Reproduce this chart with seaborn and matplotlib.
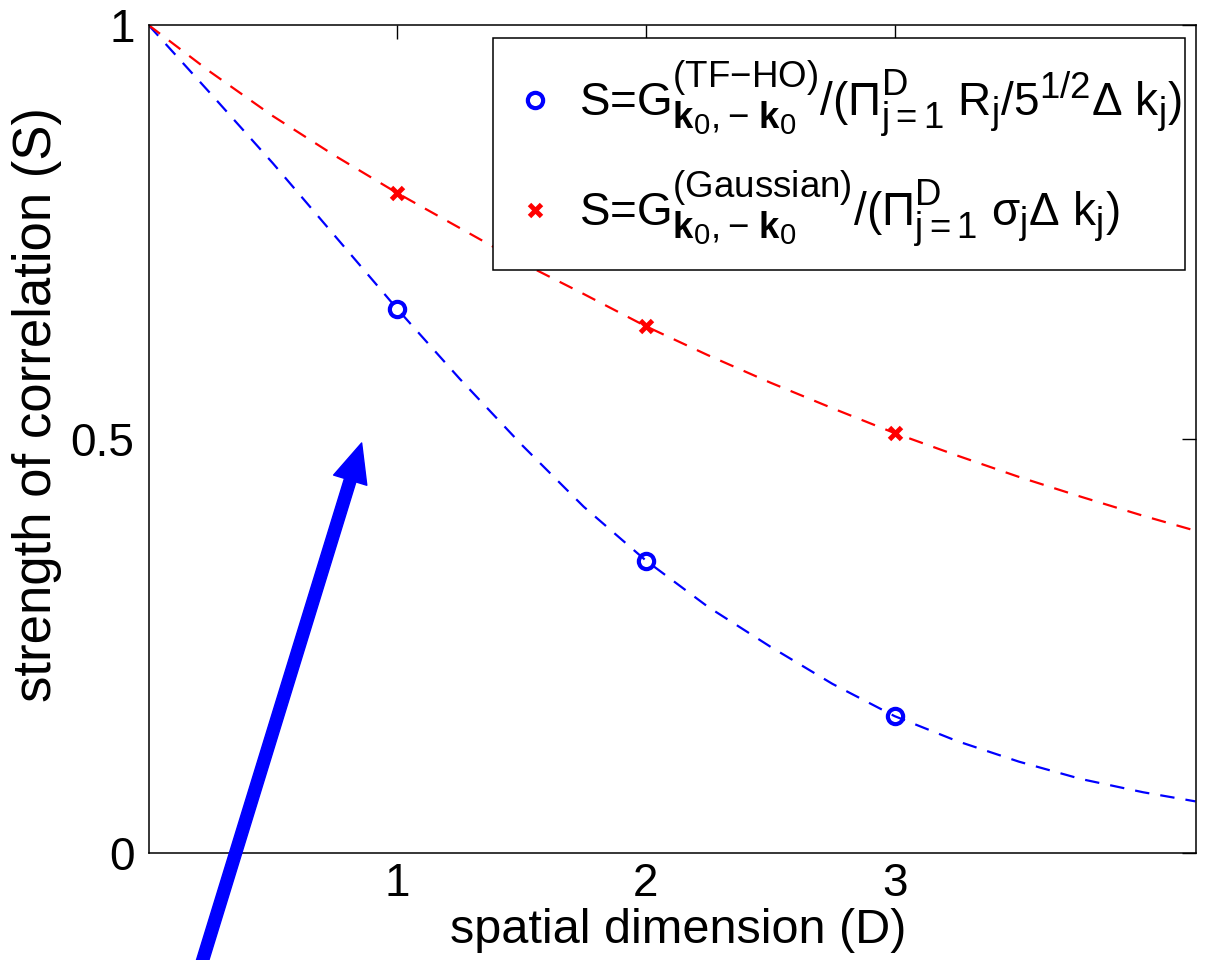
import matplotlib
matplotlib.use("Agg")
import matplotlib.pyplot as plt
from matplotlib.lines import Line2D
from matplotlib.patches import Rectangle
import seaborn as sns
import pandas as pd
try:
    import matplotlib._mathtext as _mt
    _mt.SHRINK_FACTOR = 0.8
except Exception:
    pass

# ---- data ----
dims = [1, 2, 3]
s_tfho = [0.657, 0.353, 0.165]
s_gauss = [0.797, 0.636, 0.507]

curve_x = [0, 0.25, 0.5, 0.75, 1, 1.25, 1.5, 1.75, 2, 2.25, 2.5, 2.75, 3,
           3.25, 3.5, 3.75, 4, 4.21]
curve_tfho = [1.0, 0.917, 0.833, 0.745, 0.657, 0.573, 0.493, 0.418, 0.353,
              0.297, 0.249, 0.204, 0.165, 0.135, 0.110, 0.089, 0.073, 0.062]
curve_gauss = [1.0, 0.943, 0.890, 0.842, 0.797, 0.755, 0.713, 0.675, 0.636,
               0.601, 0.568, 0.537, 0.507, 0.480, 0.454, 0.430, 0.407, 0.389]

x_ticks = [1, 2, 3]
y_ticks = [0, 0.5, 1]
y_tick_labels = ["0", "0.5", "1"]

label_tfho = (r"S=G$^{(\mathrm{TF{-}HO})}_{\mathbf{k}_0\mathrm{,{-}}\ \mathbf{k}_0}$"
              r"/($\Pi^D_{j{=}1}$ R$_j$/5$^{1/2}$$\Delta$ k$_j$)")
label_gauss = (r"S=G$^{(\mathrm{Gaussian})}_{\mathbf{k}_0\mathrm{,{-}}\ \mathbf{k}_0}$"
               r"/($\Pi^D_{j{=}1}$ $\sigma_j\Delta$ k$_j$)")

# ---- style ----
sns.set_style("white")
plt.rcParams["font.family"] = ["Liberation Sans", "DejaVu Sans"]
plt.rcParams["mathtext.fontset"] = "custom"
plt.rcParams["mathtext.rm"] = "Liberation Sans"
plt.rcParams["mathtext.it"] = "Liberation Sans"
plt.rcParams["mathtext.bf"] = "Liberation Sans:bold"
plt.rcParams["mathtext.sf"] = "Liberation Sans"
plt.rcParams["text.color"] = "black"
plt.rcParams["axes.labelcolor"] = "black"
plt.rcParams["xtick.color"] = "black"
plt.rcParams["ytick.color"] = "black"

FS = 33

fig = plt.figure(figsize=(12.05, 9.6), dpi=100)
ax = fig.add_axes([148.5 / 1205, (960 - 852.7) / 960, 1047 / 1205, 827.7 / 960])

df_curve = pd.DataFrame({"x": curve_x, "tfho": curve_tfho, "gauss": curve_gauss})
sns.lineplot(data=df_curve, x="x", y="tfho", ax=ax, color="#0000ff", lw=1.6,
             dashes=False, sort=False, estimator=None)
sns.lineplot(data=df_curve, x="x", y="gauss", ax=ax, color="#ff0000", lw=1.6,
             dashes=False, sort=False, estimator=None)
for ln in ax.lines:
    ln.set_dashes((6.5, 5))

ax.plot(dims, s_tfho, linestyle="none", marker="o", markersize=11,
        markerfacecolor="none", markeredgecolor="#0000ff", markeredgewidth=3)
ax.plot(dims, s_gauss, linestyle="none", marker="x", markersize=8.5,
        markeredgecolor="#ff0000", markeredgewidth=3.5)

ax.set_xlim(0, 4.21)
ax.set_ylim(0, 1)
ax.set_xticks(x_ticks)
ax.set_xticklabels([str(t) for t in x_ticks])
ax.set_yticks(y_ticks)
ax.set_yticklabels(y_tick_labels)
ax.tick_params(direction="in", length=10, width=1, top=True, right=True,
               labelsize=FS, colors="black")
ax.tick_params(axis="x", pad=7)
ax.tick_params(axis="y", pad=10)
for sp in ax.spines.values():
    sp.set_visible(True)
    sp.set_color("black")
    sp.set_linewidth(1.1)

ax.set_xlabel("spatial dimension (D)", fontsize=35, color="black")
ax.set_ylabel("strength of correlation (S)", fontsize=38, color="black")
ax.xaxis.set_label_coords(0.5057, -0.0668)
ax.yaxis.set_label_coords(-0.0826, 0.542)

# legend frame (white box with black edge)
frame = Rectangle((0.329, 0.704), 0.6605, 0.2803, transform=ax.transAxes,
                  facecolor="white", edgecolor="black", linewidth=1.1,
                  zorder=4, clip_on=False)
ax.add_patch(frame)

handles = [
    Line2D([], [], linestyle="none", marker="o", markersize=11,
           markerfacecolor="none", markeredgecolor="#0000ff", markeredgewidth=3),
    Line2D([], [], linestyle="none", marker="x", markersize=8.5,
           markeredgecolor="#ff0000", markeredgewidth=3.5),
]
leg = ax.legend(handles, [label_tfho, label_gauss], loc="upper right",
                bbox_to_anchor=(0.9871, 0.9595), fontsize=FS, frameon=False,
                handlelength=1.0, handletextpad=0.45, borderpad=0,
                labelspacing=0.65, borderaxespad=0)
for t in leg.get_texts():
    t.set_color("black")
leg.set_zorder(5)

# big blue arrow
ax.annotate("", xy=(0.857, 0.495), xytext=(0.146, -0.2),
            xycoords="data", textcoords="data", annotation_clip=False,
            arrowprops=dict(width=8.6, headwidth=25, headlength=28,
                            color="#0000ff", shrink=0), zorder=6)

fig.savefig("out.png", dpi=100)
